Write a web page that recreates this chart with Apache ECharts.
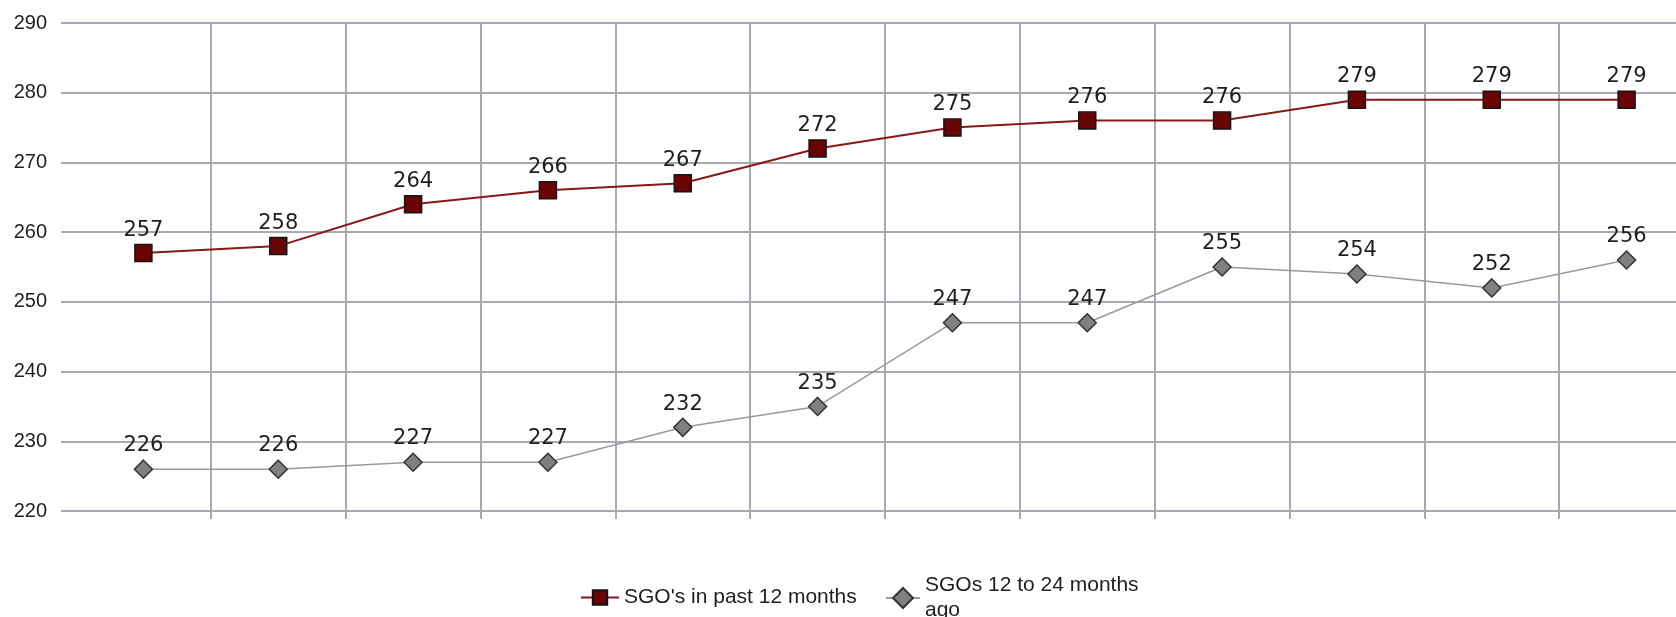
<!DOCTYPE html>
<html>
<head>
<meta charset="utf-8">
<script src="https://cdn.jsdelivr.net/npm/echarts@6/dist/echarts.min.js"></script>
<style>
  html, body { margin: 0; padding: 0; background: #fff; }
  #sgo_chart { width: 1676px; height: 617px; }
</style>
</head>
<body>
<div id="sgo_chart"></div>
<script>
// SGO 数量对比图

// 数据
var months = ['m1', 'm2', 'm3', 'm4', 'm5', 'm6', 'm7', 'm8', 'm9', 'm10', 'm11', 'm12']
var past_12_name = "SGO's in past 12 months"
var past_12 = [257, 258, 264, 266, 267, 272, 275, 276, 276, 279, 279, 279]
var prev_12_name = 'SGOs 12 to 24 months\nago'
var prev_12 = [226, 226, 227, 227, 232, 235, 247, 247, 255, 254, 252, 256]
var y_min = 220
var y_max = 290
var y_step = 10

var grid_color = '#a9a9b3'
var text_color = '#1e1e1e'

var sgo_chart = echarts.init(document.getElementById('sgo_chart'), null, {renderer: 'canvas'});

var label_style = {
    show: true,
    position: 'top',
    distance: 3,
    color: text_color,
    fontFamily: 'DejaVu Sans',
    fontSize: 21
}

var option = {
    animation: false,
    backgroundColor: '#fff',
    grid: [
        // 横线 + y 轴文字
        {left: 61, right: 0, top: 23, bottom: 106},
        // 数据 + 竖线 (右边超出画布)
        {left: 76, width: 1618, top: 23, bottom: 106, outerBoundsMode: 'none'}
    ],
    xAxis: [
        {
            type: 'category',
            data: months,
            gridIndex: 0,
            show: false
        },
        {
            type: 'category',
            data: months,
            gridIndex: 1,
            boundaryGap: true,
            axisLine: {show: false},
            axisLabel: {show: false},
            axisTick: {
                show: true,
                length: 8,
                interval: function (i) { return i > 0 },
                lineStyle: {color: grid_color, width: 2}
            },
            splitLine: {
                show: true,
                interval: function (i) { return i > 0 },
                lineStyle: {color: grid_color, width: 2}
            }
        }
    ],
    yAxis: [
        {
            type: 'value',
            gridIndex: 0,
            min: y_min,
            max: y_max,
            interval: y_step,
            axisLine: {show: false},
            axisTick: {show: false},
            axisLabel: {
                margin: 14,
                color: text_color,
                fontFamily: 'Liberation Sans',
                fontSize: 20,
                verticalAlign: 'middle',
                padding: [0, 0, 4, 0]
            },
            splitLine: {lineStyle: {color: grid_color, width: 2}}
        },
        {
            type: 'value',
            gridIndex: 1,
            min: y_min,
            max: y_max,
            interval: y_step,
            show: false,
            splitLine: {show: false}
        }
    ],
    legend: [
        {
            data: [past_12_name],
            left: 575,
            top: 580,
            itemWidth: 38,
            itemHeight: 18,
            itemGap: 10,
            textStyle: {color: text_color, fontFamily: 'Liberation Sans', fontSize: 21, lineHeight: 25}
        },
        {
            data: [prev_12_name],
            left: 880,
            top: 568,
            itemWidth: 34,
            itemHeight: 25,
            itemGap: 10,
            textStyle: {color: text_color, fontFamily: 'Liberation Sans', fontSize: 21, lineHeight: 25}
        }
    ],
    series: [
        {
            name: past_12_name,
            type: 'line',
            xAxisIndex: 1,
            yAxisIndex: 1,
            data: past_12,
            symbol: 'rect',
            symbolSize: 17,
            lineStyle: {color: '#861818', width: 2},
            itemStyle: {color: '#6a0404', borderColor: '#151515', borderWidth: 1.5},
            label: label_style,
            z: 3
        },
        {
            name: prev_12_name,
            type: 'line',
            xAxisIndex: 1,
            yAxisIndex: 1,
            data: prev_12,
            symbol: 'diamond',
            symbolSize: 18,
            lineStyle: {color: '#9a9a9a', width: 1.5},
            itemStyle: {color: '#808080', borderColor: '#333', borderWidth: 1.5},
            label: label_style,
            z: 3
        }
    ]
};
sgo_chart.setOption(option);
</script>
</body>
</html>
